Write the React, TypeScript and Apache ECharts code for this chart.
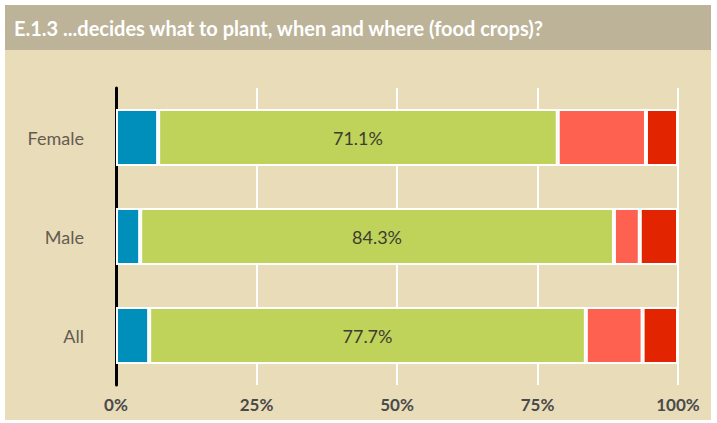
import React, { useEffect, useRef } from "react";
import * as echarts from "echarts";

const categories = ["All", "Male", "Female"];
const seriesNames = ["Self", "Joint", "Spouse", "Other"];
const selfVals = [5.9, 4.3, 7.5];
const jointVals = [77.7, 84.3, 71.1];
const spouseVals = [10.1, 4.6, 15.7];
const otherVals = [6.3, 6.8, 5.7];
const xTicks = [0, 25, 50, 75, 100];
const colors = ["#008fbb", "#bfd35a", "#ff6150", "#e32400"];
const title = "E.1.3 ...decides what to plant, when and where (food crops)?";

export default function App() {
  const ref = useRef<HTMLDivElement>(null);
  useEffect(() => {
    if (!ref.current) return;
    const chart = echarts.init(ref.current, null, { renderer: "svg" });
    const values = [selfVals, jointVals, spouseVals, otherVals];
    chart.setOption({
      animation: false,
      textStyle: { fontFamily: "Lato" },
      graphic: [
        { type: "rect", shape: { x: 5, y: 50, width: 706, height: 370 }, style: { fill: "#e9dcb9" }, z: -10 },
        { type: "rect", shape: { x: 5, y: 5, width: 706, height: 45 }, style: { fill: "#bcb398" }, z: -10 },
        {
          type: "text",
          x: 14,
          y: 28,
          style: { text: title, fill: "#ffffff", font: "bold 20px Lato", textVerticalAlign: "middle" },
        },
      ],
      grid: { left: 116, right: 39, top: 88, bottom: 38 },
      xAxis: {
        type: "value",
        min: xTicks[0],
        max: xTicks[xTicks.length - 1],
        interval: 25,
        axisLine: { show: false },
        axisTick: { show: false },
        splitLine: { show: true, lineStyle: { color: "#ffffff", width: 2 } },
        axisLabel: { formatter: "{value}%", color: "#4a4a4a", fontSize: 17, fontWeight: "bold", fontFamily: "Lato", margin: 11 },
      },
      yAxis: {
        type: "category",
        data: categories,
        axisLine: { show: true, lineStyle: { color: "#000000", width: 3 } },
        axisTick: { show: false },
        axisLabel: { color: "#655b52", fontSize: 18, fontFamily: "Lato", margin: 32 },
      },
      series: seriesNames.map((name, i) => ({
        name,
        type: "bar",
        stack: "total",
        barWidth: 57,
        data: values[i],
        itemStyle: { color: colors[i], borderColor: "#ffffff", borderWidth: 2 },
        label: {
          show: i === 1,
          position: "inside",
          formatter: (p: any) => p.value.toFixed(1) + "%",
          color: "#3d3d30",
          fontSize: 18,
          fontFamily: "Lato",
        },
        z: 3,
      })),
    });
    return () => chart.dispose();
  }, []);
  return <div ref={ref} style={{ position: "absolute", left: 0, top: 0, width: 717, height: 423, background: "#ffffff" }} />;
}
